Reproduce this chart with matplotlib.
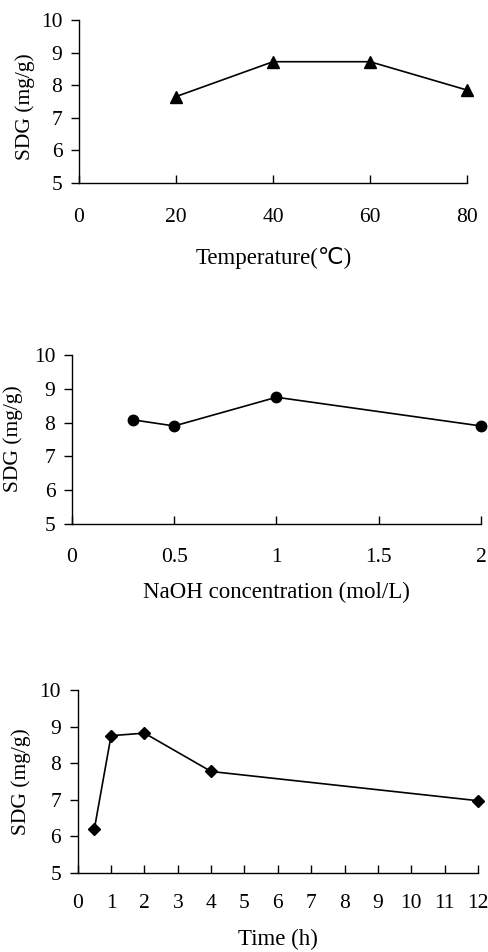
import matplotlib
matplotlib.use("Agg")
import matplotlib.pyplot as plt

# data
temp = [20, 40, 60, 80]
sdg_temp = [7.65, 8.72, 8.72, 7.85]

naoh = [0.3, 0.5, 1, 2]
sdg_naoh = [8.08, 7.9, 8.75, 7.9]

time_h = [0.5, 1, 2, 4, 12]
sdg_time = [6.2, 8.75, 8.82, 7.77, 6.97]

plt.rcParams['font.family'] = ['Liberation Serif', 'DejaVu Sans']
plt.rcParams['font.size'] = 15

fig = plt.figure(figsize=(4.89, 9.52), dpi=100)

panels = [
    # rect, x, y, marker, ms, xlim, xticks, xticklabels, xlabel, label coords, tick pad
    ([0.1616, 0.8078, 0.7935, 0.1712], temp, sdg_temp, '^', 8, (0, 80),
     [0, 20, 40, 60, 80], ['0', '20', '40', '60', '80'], 'Temperature(℃)',
     (0.503, -0.46), (-0.139, 0.466), 19),
    ([0.1472, 0.4496, 0.8364, 0.1775], naoh, sdg_naoh, 'o', 7.5, (0, 2),
     [0, 0.5, 1, 1.5, 2], ['0', '0.5', '1', '1.5', '2'], 'NaOH concentration (mol/L)',
     (0.50, -0.408), (-0.144, 0.503), 18),
    ([0.1589, 0.0833, 0.8186, 0.1919], time_h, sdg_time, 'D', 6.5, (0, 12),
     list(range(13)), [str(i) for i in range(13)], 'Time (h)',
     (0.50, -0.368), (-0.142, 0.496), 16),
]

for rect, xs, ys, mk, ms, xlim, xt, xtl, xlab, xlc, ylc, pad in panels:
    ax = fig.add_axes(rect)
    ax.plot(xs, ys, color='black', lw=1.2, marker=mk, ms=ms, clip_on=False)
    ax.set_xlim(*xlim)
    ax.set_ylim(5, 10)
    ax.set_xticks(xt)
    ax.set_xticklabels(xtl)
    ax.set_yticks([5, 6, 7, 8, 9, 10])
    for s in ['top', 'right']:
        ax.spines[s].set_visible(False)
    for s in ['left', 'bottom']:
        ax.spines[s].set_linewidth(1.0)
    ax.tick_params(axis='y', direction='out', length=6, width=1, pad=6, labelsize=15.5)
    ax.tick_params(axis='x', direction='in', length=6, width=1, pad=pad - 1, labelsize=15.5)
    ax.set_xlabel(xlab, fontsize=16.5, va='center', ha='center')
    ax.xaxis.set_label_coords(*xlc)
    ax.set_ylabel('SDG (mg/g)', fontsize=15.5, va='center', ha='center')
    ax.yaxis.set_label_coords(*ylc)

fig.savefig('out.png', dpi=100)
